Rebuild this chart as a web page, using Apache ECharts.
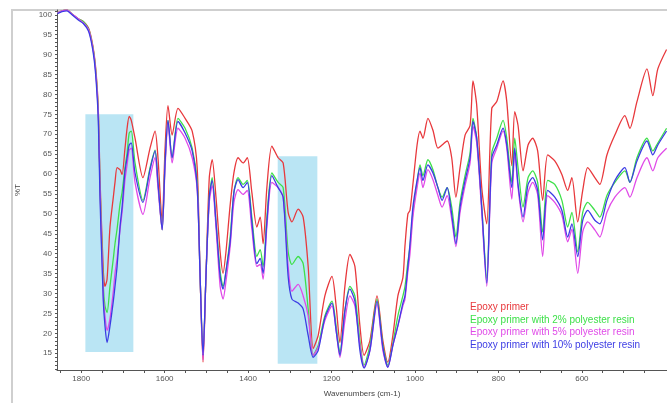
<!DOCTYPE html>
<html>
<head>
<meta charset="utf-8">
<script src="https://cdn.jsdelivr.net/npm/echarts@6/dist/echarts.min.js"></script>
<style>
html,body{margin:0;padding:0;background:#fff;}
#c{width:667px;height:403px;}
</style>
</head>
<body>
<div id="c"></div>
<script>
// Wavenumbers (cm-1), shared by all four spectra
const wavenumbers = [
1857,1846,1834,1822,1807,1795,1783,1776,1769,1764,
1759,1755,1747,1743,1738,1731,1723,1719,1714,1707,
1702,1695,1690,1685,1680,1671,1652,1635,1623,1616,
1606,1599,1592,1582,1568,1551,1534,1522,1515,1508,
1501,1493,1486,1477,1467,1460,1453,1443,1434,1424,
1412,1402,1391,1379,1371,1364,1355,1343,1328,1316,
1304,1295,1280,1268,1256,1244,1232,1216,1199,1189,
1180,1168,1156,1144,1132,1122,1108,1091,1077,1065,
1053,1041,1029,1024,1017,1012,1005,995,988,981,
969,957,945,935,923,912,902,892,880,868,
861,852,840,828,816,804,789,780,768,761,
753,741,729,718,706,694,682,665,648,634,
624,610,598,586,569,557,540,521,497,485,
468,444,430,418,397];

// %T values
const epoxyPrimer = [
100.5,101.0,101.2,100.2,99.0,98.3,96.8,94.3,90.1,85.1,
76.5,59.1,35.6,31.8,33.6,46.7,54.2,57.9,61.6,61.1,
59.9,66.5,71.5,74.5,73.5,69.0,59.1,66.5,70.8,64.1,
48.0,66.5,77.2,69.8,76.5,74.0,70.8,61.6,34.3,12.8,
34.3,59.1,63.6,54.2,40.5,35.1,40.5,52.2,60.3,64.1,
62.8,64.1,55.4,46.7,49.2,42.5,56.6,67.0,64.1,62.8,
50.4,48.0,51.2,49.2,36.8,16.2,19.5,29.4,34.3,26.9,
17.7,31.8,39.8,36.8,21.9,14.5,18.2,29.4,18.2,12.8,
19.5,29.4,34.0,42.0,50.0,50.9,57.4,67.3,70.8,69.0,
74.0,71.0,66.5,67.3,68.3,64.1,54.2,61.6,69.8,72.2,
83.4,77.2,56.6,47.5,76.5,78.2,83.4,78.2,62.1,75.7,
72.2,60.8,67.3,69.0,65.8,53.4,64.8,63.3,59.9,55.9,
59.1,48.0,55.9,61.6,59.1,57.4,64.8,69.8,74.7,71.5,
78.2,86.4,79.7,86.4,91.3];

const primer2 = [
100.5,101.0,101.2,100.2,99.0,98.3,96.6,94.0,89.8,84.5,
75.5,57.5,31.8,26.9,25.2,31.8,38.8,42.5,46.2,52.4,
55.4,61.6,65.3,70.3,70.8,62.8,53.4,61.6,66.0,57.9,
46.0,62.8,73.5,64.1,74.0,71.5,66.5,57.9,34.3,14.5,
34.3,54.2,59.1,48.0,35.6,31.8,35.6,44.2,55.4,59.1,
57.4,58.4,49.2,39.3,41.0,36.8,49.2,60.3,57.9,56.6,
40.5,37.3,39.3,37.5,26.1,14.5,17.0,24.4,28.1,21.9,
15.2,25.7,31.8,29.4,18.2,12.0,17.0,28.6,17.0,12.0,
17.5,24.4,29.4,31.8,38.0,41.8,50.4,57.9,62.3,59.6,
63.6,61.1,56.6,54.2,56.6,51.7,44.2,52.9,59.6,65.3,
74.0,69.0,51.7,33.8,65.3,69.0,73.5,69.0,57.9,69.0,
61.6,51.7,59.1,60.8,57.9,45.5,58.4,57.4,53.4,46.7,
50.4,40.5,50.4,52.9,50.9,49.2,54.6,57.9,60.8,57.9,
64.1,69.0,65.8,67.8,71.5];

const primer5 = [
100.5,101.0,101.2,100.2,99.0,98.0,96.4,93.8,89.5,84.0,
75.0,57.0,29.4,24.4,20.7,23.7,30.6,35.1,38.8,46.0,
50.4,58.6,62.3,66.0,66.5,57.9,49.9,59.1,64.1,56.6,
46.0,61.6,72.7,62.8,71.5,69.0,64.1,56.1,34.3,13.3,
34.3,52.9,57.1,46.7,31.8,28.6,33.1,41.8,52.9,56.1,
54.9,55.9,46.2,36.8,37.3,33.6,46.7,57.9,56.6,54.2,
36.8,30.6,32.3,29.4,24.4,14.5,16.5,23.2,26.9,20.7,
14.0,23.2,29.4,26.9,17.0,11.5,15.7,27.4,15.7,11.5,
17.0,21.9,26.9,28.6,35.6,40.0,49.2,56.6,60.3,56.6,
61.1,58.6,54.6,51.7,54.6,48.7,41.8,50.4,57.1,62.8,
72.0,67.8,50.4,31.8,62.8,66.5,70.8,66.5,53.7,65.3,
56.6,48.0,55.4,57.9,54.9,39.3,54.6,52.9,49.7,43.0,
46.2,35.1,45.5,48.0,46.0,44.2,50.4,54.2,56.6,54.2,
59.1,64.1,60.8,64.1,66.5];

const primer10 = [
100.3,100.8,101.0,100.0,98.7,97.8,96.0,93.3,88.8,83.0,
73.5,54.2,28.1,21.9,17.7,21.9,28.1,31.8,36.8,46.7,
51.7,60.8,64.1,67.3,67.8,60.3,52.9,61.1,65.8,57.9,
46.0,62.8,73.5,64.1,73.2,70.3,65.8,56.6,34.3,14.5,
34.3,54.2,58.4,48.0,34.3,31.1,35.6,43.0,55.4,58.6,
56.6,57.9,48.0,37.5,38.8,35.1,48.0,59.6,56.6,54.2,
34.3,28.6,27.6,26.1,19.5,14.0,15.7,23.9,27.6,20.7,
14.5,25.7,31.1,28.1,15.7,11.3,15.7,28.1,16.5,11.5,
17.0,21.9,27.6,29.4,36.8,42.5,51.7,58.4,61.6,58.4,
62.3,60.3,56.6,53.4,56.6,49.9,42.5,51.7,58.4,64.1,
73.2,69.0,51.7,32.6,64.1,67.3,71.5,67.3,56.6,66.5,
57.4,49.2,57.4,59.1,55.9,43.5,55.9,54.2,50.9,44.2,
47.5,39.3,48.4,50.9,48.4,47.5,53.4,58.4,61.6,57.9,
63.3,68.3,64.8,67.3,70.8];

const seriesNames = [
  'Epoxy primer',
  'Epoxy primer with 2% polyester resin',
  'Epoxy primer with 5% polyester resin',
  'Epoxy primer with 10% polyester resin'
];
const seriesValues = [epoxyPrimer, primer2, primer5, primer10];
const seriesColors = ['#e8383c', '#3ee04a', '#e04ae8', '#3c3ce4'];

// Tick labels
const xTickLabels = [1800, 1600, 1400, 1200, 1000, 800, 600];
const yTickLabels = [15,20,25,30,35,40,45,50,55,60,65,70,75,80,85,90,95,100];

// Highlighted bands: [wavenumber from, wavenumber to, %T low, %T high]
const band1 = [1790, 1675, 15.3, 75.0];
const band2 = [1329, 1234, 12.4, 64.5];

const xMinorTicks = [];
for (let v = 450; v <= 1850; v += 50) xMinorTicks.push(v);
const yMinorTicks = [];
for (let v = 11; v <= 101; v += 1) yMinorTicks.push(v);

const chart = echarts.init(document.getElementById('c'), null, {renderer: 'canvas'});
const font = 'Liberation Sans, Arial, sans-serif';

const lineSeries = seriesNames.map((name, i) => ({
  name: name,
  type: 'line',
  data: wavenumbers.map((w, j) => [w, seriesValues[i][j]]),
  showSymbol: false,
  smooth: 0.25,
  lineStyle: {color: seriesColors[i], width: 1.3},
  itemStyle: {color: seriesColors[i]},
  z: 3 + i,
  animation: false
}));

const bandSeries = {
  name: 'bands',
  type: 'line',
  data: [],
  z: 10,
  silent: true,
  markArea: {
    silent: true,
    itemStyle: {color: 'rgba(110,200,232,0.48)'},
    data: [band1, band2].map(b => [
      {coord: [b[0], b[3]]},
      {coord: [b[1], b[2]]}
    ])
  }
};

chart.setOption({
  animation: false,
  backgroundColor: '#fff',
  graphic: [{
    type: 'rect',
    shape: {x: 12, y: 10, width: 700, height: 450},
    style: {fill: 'none', stroke: '#cfcfcf', lineWidth: 2},
    z: 0,
    silent: true
  }],
  grid: {left: 57, right: 0, top: 10, bottom: 28, containLabel: false},
  legend: {
    orient: 'vertical',
    left: 460,
    top: 297,
    icon: 'none',
    itemWidth: 0,
    itemHeight: 10,
    itemGap: 2.8,
    selectedMode: false,
    textStyle: {fontSize: 10, fontFamily: font},
    data: seriesNames.map((n, i) => ({name: n, textStyle: {color: seriesColors[i]}}))
  },
  xAxis: {
    type: 'value',
    inverse: true,
    min: 396,
    max: 1858,
    name: 'Wavenumbers (cm-1)',
    nameLocation: 'middle',
    nameGap: 20,
    nameTextStyle: {fontSize: 8, color: '#444', fontFamily: font},
    axisLine: {show: true, onZero: false, lineStyle: {color: '#555', width: 1}},
    axisTick: {show: true, customValues: xMinorTicks, length: 3, lineStyle: {color: '#555'}},
    axisLabel: {
      customValues: xTickLabels,
      formatter: v => String(v),
      fontSize: 8, color: '#555', fontFamily: font, margin: 5
    },
    splitLine: {show: false}
  },
  yAxis: {
    type: 'value',
    min: 10.8,
    max: 101.2,
    name: '%T',
    nameLocation: 'middle',
    nameGap: 35,
    nameRotate: 90,
    nameTextStyle: {fontSize: 8, color: '#444', fontFamily: font},
    axisLine: {show: true, onZero: false, lineStyle: {color: '#555', width: 1}},
    axisTick: {show: true, customValues: yMinorTicks, length: 2, lineStyle: {color: '#555'}},
    axisLabel: {
      customValues: yTickLabels,
      formatter: v => String(v),
      fontSize: 8, color: '#555', fontFamily: font, margin: 5
    },
    splitLine: {show: false}
  },
  series: lineSeries.concat([bandSeries])
});
</script>
</body>
</html>
